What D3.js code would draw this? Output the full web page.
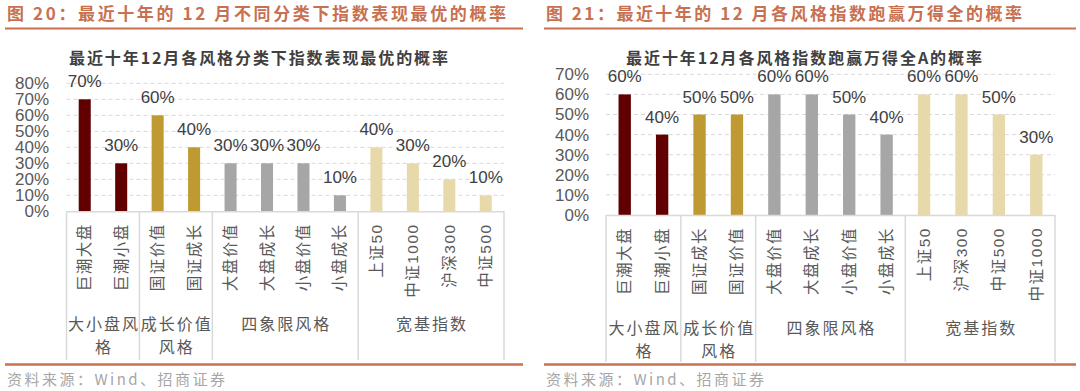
<!DOCTYPE html>
<html><head><meta charset="utf-8">
<script src="https://cdn.jsdelivr.net/npm/d3@7"></script>
<style>
html,body{margin:0;padding:0;background:#fff;}
svg{display:block;}
</style></head>
<body>
<svg id="chart" width="1080" height="391"></svg>
<script>
// ---- data ----
const leftHeading = "图 20：最近十年的 12 月不同分类下指数表现最优的概率";
const leftTitle = "最近十年12月各风格分类下指数表现最优的概率";
const leftCategories = ["巨潮大盘","巨潮小盘","国证价值","国证成长","大盘价值","大盘成长","小盘价值","小盘成长","上证50","中证1000","沪深300","中证500"];
const leftValues = [70,30,60,40,30,30,30,10,40,30,20,10];
const leftTicks = [0,10,20,30,40,50,60,70,80];

const rightHeading = "图 21：最近十年的 12 月各风格指数跑赢万得全的概率";
const rightTitle = "最近十年12月各风格指数跑赢万得全A的概率";
const rightCategories = ["巨潮大盘","巨潮小盘","国证成长","国证价值","大盘价值","大盘成长","小盘价值","小盘成长","上证50","沪深300","中证500","中证1000"];
const rightValues = [60,40,50,50,60,60,50,40,60,60,50,30];
const rightTicks = [0,10,20,30,40,50,60,70];

const groupNames = ["大小盘风格","成长价值风格","四象限风格","宽基指数"];
const groupSizes = [2,2,4,4];
const groupColors = ["#600000","#BF9A33","#A6A6A6","#E8D9AB"];
const sourceText = "资料来源：Wind、招商证券";

// ---- drawing ----
const svg = d3.select("#chart");
const ORANGE = "#C8704F";
const LATIN = "'Liberation Sans', Arial, 'Noto Sans CJK SC', sans-serif";
const CJK = "'Noto Sans CJK SC', 'Liberation Sans', sans-serif";

function groupOf(i){
  let acc=0;
  for(let g=0; g<groupSizes.length; g++){ acc+=groupSizes[g]; if(i<acc) return g; }
  return groupSizes.length-1;
}

function drawPanel(cfg){
  const g = svg.append("g");
  // heading
  g.append("text").attr("x",cfg.headX).attr("y",20)
    .attr("textLength",cfg.headLen).attr("lengthAdjust","spacing")
    .style("font-family",CJK).style("font-size","17px").style("font-weight","bold")
    .attr("fill",ORANGE).text(cfg.heading);
  g.append("line").attr("x1",cfg.lineX1).attr("x2",cfg.lineX2).attr("y1",28.5).attr("y2",28.5)
    .attr("stroke",ORANGE).attr("stroke-width",2.2);
  // chart title
  g.append("text").attr("x",cfg.titleX).attr("y",64)
    .attr("textLength",cfg.titleLen).attr("lengthAdjust","spacing")
    .style("font-family",CJK).style("font-size","16px").style("font-weight","bold")
    .attr("fill","#404040").text(cfg.title);

  const x = d3.scaleBand().domain(cfg.cats).range([cfg.x0,cfg.x1]).paddingInner(0.67).paddingOuter(0.335);
  const y = d3.scaleLinear().domain([0,d3.max(cfg.ticks)]).range([cfg.yBase,cfg.yTop]);

  // gridlines
  g.append("g").selectAll("line").data(cfg.ticks.filter(t=>t>0)).join("line")
    .attr("x1",cfg.x0).attr("x2",cfg.x1).attr("y1",d=>y(d)).attr("y2",d=>y(d))
    .attr("stroke","#D9D9D9").attr("stroke-width",1).attr("stroke-dasharray","4,3");

  // y axis labels
  const ya = g.append("g").attr("transform",`translate(${cfg.yLabX},0)`)
    .call(d3.axisLeft(y).tickValues(cfg.ticks).tickSize(0).tickPadding(0).tickFormat(d=>d+"%"));
  ya.select(".domain").remove();
  ya.selectAll("text").style("font-family",LATIN).style("font-size","17px").attr("fill","#595959");

  // bars
  g.append("g").selectAll("rect").data(cfg.vals).join("rect")
    .attr("x",(d,i)=>x(cfg.cats[i])).attr("width",x.bandwidth())
    .attr("y",d=>y(d)).attr("height",d=>cfg.yBase-y(d))
    .attr("fill",(d,i)=>groupColors[groupOf(i)]);

  // value labels
  g.append("g").selectAll("text").data(cfg.vals).join("text")
    .attr("x",(d,i)=>x(cfg.cats[i])+x.bandwidth()/2).attr("y",d=>y(d)-12)
    .attr("text-anchor","middle")
    .style("font-family",LATIN).style("font-size","17px").attr("fill","#404040")
    .text(d=>d+"%");

  // x axis baseline
  g.append("line").attr("x1",cfg.x0).attr("x2",cfg.x1).attr("y1",cfg.yBase+0.5).attr("y2",cfg.yBase+0.5)
    .attr("stroke","#D9D9D9").attr("stroke-width",1.5);

  // category labels (rotated)
  g.append("g").selectAll("text").data(cfg.cats).join("text")
    .attr("transform",d=>`translate(${x(d)+x.bandwidth()/2},${cfg.yBase+12}) rotate(-90)`)
    .attr("text-anchor","end").attr("dominant-baseline","central")
    .style("font-family",LATIN).style("font-size","15.5px").style("letter-spacing","1.5px")
    .attr("fill","#595959").text(d=>d);

  // group separators and names
  const step = x.step();
  let start = 0;
  const bounds=[0];
  groupSizes.forEach(s=>{ start+=s; bounds.push(start); });
  g.append("g").selectAll("line").data(bounds).join("line")
    .attr("x1",b=>cfg.x0+b*step).attr("x2",b=>cfg.x0+b*step)
    .attr("y1",cfg.yBase).attr("y2",cfg.sepEnd)
    .attr("stroke","#D9D9D9").attr("stroke-width",1.5);

  groupNames.forEach((name,gi)=>{
    const left = cfg.x0+bounds[gi]*step, right = cfg.x0+bounds[gi+1]*step;
    const perLine = Math.floor((right-left)/18);
    const lines=[];
    for(let k=0;k<name.length;k+=perLine) lines.push(name.slice(k,k+perLine));
    lines.forEach((ln,li)=>{
      g.append("text").attr("x",(left+right)/2+1).attr("y",cfg.yBase+112+li*22.5)
        .attr("text-anchor","middle").attr("dominant-baseline","central")
        .style("font-family",CJK).style("font-size","16px").style("letter-spacing","2px")
        .attr("fill","#595959").text(ln);
    });
  });

  // bottom line & source
  g.append("line").attr("x1",cfg.lineX1).attr("x2",cfg.lineX2).attr("y1",364.5).attr("y2",364.5)
    .attr("stroke",ORANGE).attr("stroke-width",2.4);
  g.append("text").attr("x",cfg.headX).attr("y",385)
    .attr("textLength",218).attr("lengthAdjust","spacing")
    .style("font-family",CJK).style("font-size","15px").attr("fill","#A6A6A6").text(sourceText);
}

drawPanel({heading:leftHeading,title:leftTitle,cats:leftCategories,vals:leftValues,ticks:leftTicks,
  headX:7,headLen:499,lineX1:5,lineX2:523,titleX:69,titleLen:379,
  x0:66.5,x1:504,yBase:211.3,yTop:83.3,yLabX:49,sepEnd:360});
drawPanel({heading:rightHeading,title:rightTitle,cats:rightCategories,vals:rightValues,ticks:rightTicks,
  headX:546,headLen:476,lineX1:544,lineX2:1076,titleX:626,titleLen:356,
  x0:606,x1:1055,yBase:215,yTop:74.3,yLabX:589,sepEnd:362});
</script>
</body></html>
